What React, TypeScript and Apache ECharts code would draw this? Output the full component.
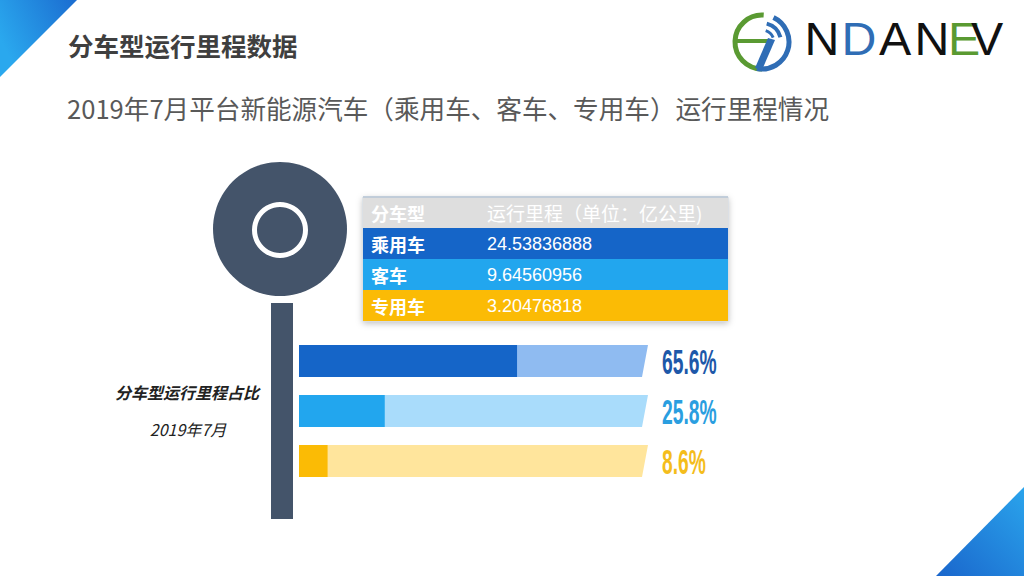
import React, { useEffect, useRef } from "react";
import * as echarts from "echarts";

// ---- data ----
const CATEGORIES = ["乘用车", "客车", "专用车"];
const MILEAGE = ["24.53836888", "9.64560956", "3.20476818"];
const SHARE = [65.6, 25.8, 8.6];
const HEADERS = ["分车型", "运行里程（单位：亿公里)"];
const TITLE = "分车型运行里程数据";
const SUBTITLE = "2019年7月平台新能源汽车（乘用车、客车、专用车）运行里程情况";
const SIDE_TITLE = "分车型运行里程占比";
const SIDE_DATE = "2019年7月";
const LOGO_LETTERS = ["N", "D", "A", "N", "E", "V"];

// ---- styles ----
const FILL_COLORS = ["#1565c8", "#22a6ee", "#fbbb05"];
const TRACK_COLORS = ["#8fbbf1", "#a9dcfb", "#ffe59c"];
const LABEL_COLORS = ["#1d58a9", "#2a9ee0", "#f4bd1c"];
const ROW_COLORS = ["#dedede", "#1565c8", "#22a6ee", "#fbbb05"];
const LOGO_COLORS = ["#111111", "#2f6db5", "#111111", "#111111", "#5a9a32", "#111111"];
const LOGO_X = [822, 859, 895, 932, 964, 987];
const CJK = '"Noto Sans CJK SC", "Noto Sans", sans-serif';
const LATIN = '"Liberation Sans", "Noto Sans CJK SC", sans-serif';

export default function App() {
  const ref = useRef<HTMLDivElement>(null);

  useEffect(() => {
    if (!ref.current) return;
    const chart = echarts.init(ref.current, undefined, { renderer: "svg" });

    const tableLeft = 363;
    const tableRight = 728;
    const tableTop = 197;
    const rowH = 31;
    const rows = [HEADERS, ...CATEGORIES.map((c, i) => [c, MILEAGE[i]])];

    const tableEls: any[] = [
      {
        type: "rect",
        shape: { x: tableLeft, y: tableTop, width: tableRight - tableLeft, height: rowH * rows.length },
        style: { fill: "#ffffff", stroke: "#c9d2db", lineWidth: 1, shadowBlur: 6, shadowColor: "rgba(0,0,0,0.25)", shadowOffsetY: 2 },
      },
    ];
    rows.forEach((r, i) => {
      const y = tableTop + i * rowH;
      tableEls.push({
        type: "rect",
        shape: { x: tableLeft, y, width: tableRight - tableLeft, height: rowH },
        style: { fill: ROW_COLORS[i] },
      });
      tableEls.push({
        type: "text",
        x: 371,
        y: y + rowH / 2,
        style: {
          text: r[0],
          fill: "#ffffff",
          font: `bold 18px ${CJK}`,
          textVerticalAlign: "middle",
          verticalAlign: "middle",
        },
      });
      tableEls.push({
        type: "text",
        x: 487,
        y: y + rowH / 2,
        style: {
          text: r[1],
          fill: "#ffffff",
          font: i === 0 ? `19px ${CJK}` : `18px ${LATIN}`,
          textVerticalAlign: "middle",
          verticalAlign: "middle",
        },
      });
    });
    tableEls.push({
      type: "line",
      shape: { x1: tableLeft, y1: tableTop, x2: tableRight, y2: tableTop },
      style: { stroke: "#b7c6d6", lineWidth: 1.5 },
    });

    const logoEls: any[] = [
      {
        type: "arc",
        shape: { cx: 762, cy: 42, r: 27, startAngle: Math.PI * 0.5, endAngle: Math.PI * 1.52, clockwise: true },
        style: { stroke: "#5a9a32", lineWidth: 5, fill: null },
      },
      {
        type: "line",
        shape: { x1: 737, y1: 41, x2: 768, y2: 41 },
        style: { stroke: "#5a9a32", lineWidth: 4 },
      },
      {
        type: "arc",
        shape: { cx: 762, cy: 42, r: 27, startAngle: -Math.PI * 0.36, endAngle: Math.PI * 0.56, clockwise: true },
        style: { stroke: "#2f6db5", lineWidth: 5, fill: null },
      },
      {
        type: "arc",
        shape: { cx: 762, cy: 42, r: 19, startAngle: -Math.PI * 0.42, endAngle: -Math.PI * 0.08, clockwise: true },
        style: { stroke: "#2f6db5", lineWidth: 4, fill: null },
      },
      {
        type: "arc",
        shape: { cx: 762, cy: 42, r: 12, startAngle: -Math.PI * 0.4, endAngle: -Math.PI * 0.12, clockwise: true },
        style: { stroke: "#2f6db5", lineWidth: 3, fill: null },
      },
      {
        type: "polygon",
        shape: { points: [[768, 38], [775, 40], [762, 70], [755, 68]] },
        style: { fill: "#2f6db5" },
      },
      ...LOGO_LETTERS.map((l, i) => ({
        type: "text",
        x: LOGO_X[i],
        y: 39,
        scaleX: 1.05,
        style: {
          text: l,
          fill: LOGO_COLORS[i],
          fontSize: 46,
          fontFamily: '"Liberation Sans", sans-serif',
          fontWeight: "normal",
          textAlign: "center",
          align: "center",
          textVerticalAlign: "middle",
          verticalAlign: "middle",
        },
      })),
    ];

    const option: any = {
      animation: false,
      backgroundColor: "#ffffff",
      grid: { left: 299, width: 349, top: 336, height: 150 },
      xAxis: { type: "value", min: 0, max: 105, show: false },
      yAxis: { type: "category", data: CATEGORIES, inverse: true, show: false },
      graphic: [
        {
          type: "polygon",
          shape: { points: [[0, 0], [77, 0], [0, 77]] },
          style: {
            fill: {
              type: "linear", x: 0, y: 0.5, x2: 1, y2: 0,
              colorStops: [{ offset: 0, color: "#2aa8ee" }, { offset: 1, color: "#1b6cd0" }],
            },
          },
        },
        {
          type: "polygon",
          shape: { points: [[936, 576], [1024, 576], [1024, 487]] },
          style: {
            fill: {
              type: "linear", x: 0, y: 1, x2: 1, y2: 0,
              colorStops: [{ offset: 0, color: "#1a66cc" }, { offset: 1, color: "#2aa4ec" }],
            },
          },
        },
        {
          type: "text",
          x: 68,
          y: 44,
          style: { text: TITLE, fill: "#3f3f3f", font: `bold 25.5px ${CJK}`, textVerticalAlign: "middle", verticalAlign: "middle" },
        },
        {
          type: "text",
          x: 67,
          y: 107,
          style: { text: SUBTITLE, fill: "#595959", font: `25.6px ${CJK}`, textVerticalAlign: "middle", verticalAlign: "middle" },
        },
        ...logoEls,
        {
          type: "circle",
          shape: { cx: 280, cy: 229, r: 67 },
          style: { fill: "#44546a" },
        },
        {
          type: "ring",
          shape: { cx: 280, cy: 230, r: 28, r0: 23 },
          style: { fill: "#ffffff" },
        },
        {
          type: "rect",
          shape: { x: 271, y: 303, width: 22, height: 216 },
          style: { fill: "#44546a" },
        },
        {
          type: "text",
          x: 187,
          y: 392,
          style: {
            text: SIDE_TITLE, fill: "#222222", font: `italic bold 16px ${CJK}`,
            textAlign: "center", align: "center", textVerticalAlign: "middle", verticalAlign: "middle",
          },
        },
        {
          type: "text",
          x: 188,
          y: 429,
          style: {
            text: SIDE_DATE, fill: "#222222", font: `italic 16px ${CJK}`,
            textAlign: "center", align: "center", textVerticalAlign: "middle", verticalAlign: "middle",
          },
        },
        ...tableEls,
      ],
      series: [
        {
          type: "custom",
          data: SHARE.map((v, i) => [v, i]),
          encode: { x: 0, y: 1 },
          renderItem: (params: any, api: any) => {
            const v = api.value(0);
            const idx = api.value(1);
            const p0 = api.coord([0, idx]);
            const p1 = api.coord([v, idx]);
            const h = api.size([0, 1])[1] * 0.64;
            const cs = params.coordSys;
            const right = cs.x + cs.width;
            const top = p0[1] - h / 2;
            const bot = p0[1] + h / 2;
            return {
              type: "group",
              children: [
                {
                  type: "polygon",
                  shape: { points: [[p0[0], top], [right, top], [right - 6, bot], [p0[0], bot]] },
                  style: { fill: TRACK_COLORS[idx] },
                },
                {
                  type: "rect",
                  shape: { x: p0[0], y: top, width: p1[0] - p0[0], height: h },
                  style: { fill: FILL_COLORS[idx] },
                },
                {
                  type: "text",
                  x: right + 14,
                  y: p0[1] + 1,
                  scaleX: 0.55,
                  style: {
                    text: v.toFixed(1) + "%",
                    fill: LABEL_COLORS[idx],
                    font: `bold 35px ${LATIN}`,
                    textVerticalAlign: "middle",
                    verticalAlign: "middle",
                  },
                },
              ],
            };
          },
        },
      ],
    };

    chart.setOption(option);
    return () => chart.dispose();
  }, []);

  return (
    <div
      ref={ref}
      style={{ position: "absolute", left: 0, top: 0, width: 1024, height: 576, background: "#fff" }}
    />
  );
}
